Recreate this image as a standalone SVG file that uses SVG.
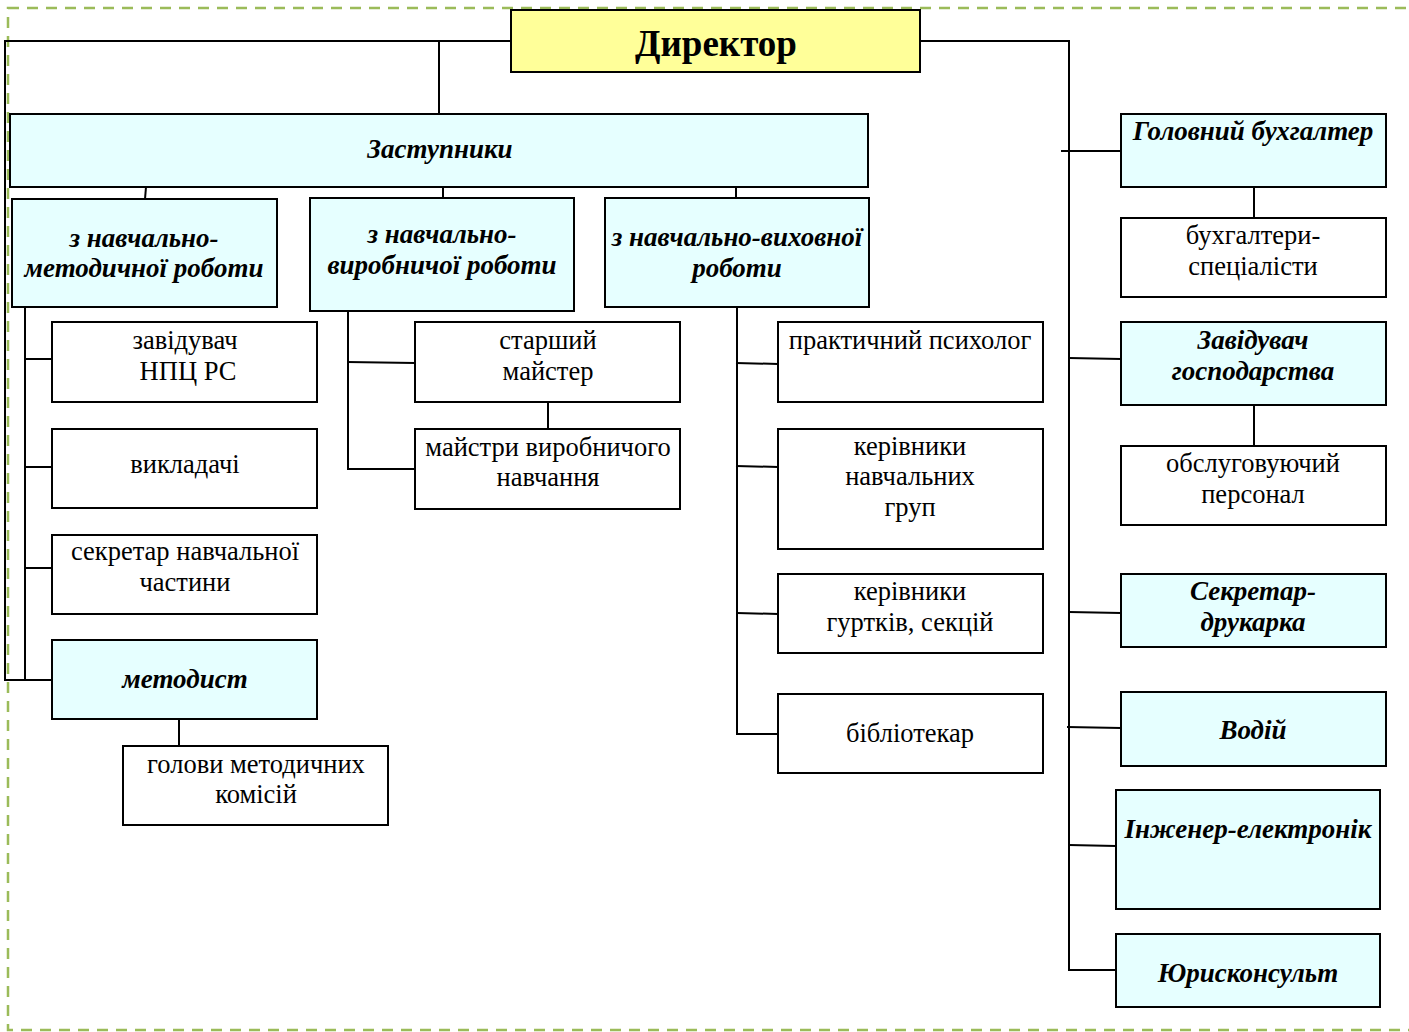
<svg xmlns="http://www.w3.org/2000/svg" width="1409" height="1032" viewBox="0 0 1409 1032">
<style>
.box{fill:#ffffff;stroke:#000;stroke-width:2}
.hi{fill:#e6ffff;stroke:#000;stroke-width:2}
.dir{fill:#ffff99;stroke:#000;stroke-width:2}
.ln{fill:none;stroke:#000;stroke-width:2}
text{font-family:"Liberation Serif","Times New Roman",serif;text-anchor:middle;fill:#000}
.r{font-size:26.5px}
.b{font-size:27px;font-weight:bold;font-style:italic}
.d{font-size:37px;font-weight:bold}
</style>
<rect x="8" y="8" width="1420" height="1022" fill="none" stroke="#9bbb59" stroke-width="2.5" stroke-dasharray="11,8"/>
<g id="connectors">
<polyline class="ln" points="511,41 5,41 5,680 52,680"/>
<line class="ln" x1="439" y1="41" x2="439" y2="114"/>
<polyline class="ln" points="920,41 1069,41 1069,970 1116,970"/>
<line class="ln" x1="146" y1="187" x2="145" y2="199"/>
<line class="ln" x1="443" y1="187" x2="443" y2="198"/>
<line class="ln" x1="736" y1="187" x2="736" y2="198"/>
<line class="ln" x1="25" y1="307" x2="25" y2="680"/>
<line class="ln" x1="25" y1="359" x2="52" y2="359"/>
<line class="ln" x1="25" y1="467" x2="52" y2="467"/>
<line class="ln" x1="25" y1="568" x2="52" y2="568"/>
<line class="ln" x1="179" y1="719" x2="179" y2="746"/>
<polyline class="ln" points="348,311 348,469 415,469"/>
<line class="ln" x1="347" y1="362" x2="415" y2="363"/>
<line class="ln" x1="548" y1="402" x2="548" y2="429"/>
<polyline class="ln" points="737,307 737,734 778,734"/>
<line class="ln" x1="736" y1="363" x2="778" y2="364"/>
<line class="ln" x1="736" y1="466" x2="778" y2="467"/>
<line class="ln" x1="737" y1="613" x2="778" y2="614"/>
<line class="ln" x1="1061" y1="151" x2="1121" y2="151"/>
<line class="ln" x1="1254" y1="187" x2="1254" y2="218"/>
<line class="ln" x1="1069" y1="358" x2="1121" y2="359"/>
<line class="ln" x1="1254" y1="405" x2="1254" y2="446"/>
<line class="ln" x1="1069" y1="612" x2="1121" y2="613"/>
<line class="ln" x1="1067" y1="727" x2="1121" y2="728"/>
<line class="ln" x1="1069" y1="845" x2="1116" y2="846"/>
</g>
<g id="director"><rect class="dir" x="511" y="10" width="409" height="62"/><text class="d" x="716" y="56">Директор</text></g>
<g id="zastupnyky"><rect class="hi" x="10" y="114" width="858" height="73"/><text class="b" x="440" y="158">Заступники</text></g>
<g id="zast-metod"><rect class="hi" x="12" y="199" width="265" height="108"/><text class="b" x="144" y="247">з навчально-</text><text class="b" x="144" y="277">методичної роботи</text></g>
<g id="zast-vyrob"><rect class="hi" x="310" y="198" width="264" height="113"/><text class="b" x="442" y="243">з навчально-</text><text class="b" x="442" y="274">виробничої роботи</text></g>
<g id="zast-vykh"><rect class="hi" x="605" y="198" width="264" height="109"/><text class="b" x="737" y="246">з навчально-виховної</text><text class="b" x="737" y="277">роботи</text></g>
<g id="npc"><rect class="box" x="52" y="322" width="265" height="80"/><text class="r" x="185" y="349">завідувач</text><text class="r" x="188" y="380">НПЦ РС</text></g>
<g id="vykladachi"><rect class="box" x="52" y="429" width="265" height="79"/><text class="r" x="185" y="473">викладачі</text></g>
<g id="sekretar-nch"><rect class="box" x="52" y="535" width="265" height="79"/><text class="r" x="185" y="560">секретар навчальної</text><text class="r" x="185" y="591">частини</text></g>
<g id="metodyst"><rect class="hi" x="52" y="640" width="265" height="79"/><text class="b" x="185" y="688">методист</text></g>
<g id="holovy"><rect class="box" x="123" y="746" width="265" height="79"/><text class="r" x="256" y="773">голови методичних</text><text class="r" x="256" y="803">комісій</text></g>
<g id="st-maister"><rect class="box" x="415" y="322" width="265" height="80"/><text class="r" x="548" y="349">старший</text><text class="r" x="548" y="380">майстер</text></g>
<g id="maistry"><rect class="box" x="415" y="429" width="265" height="80"/><text class="r" x="548" y="456">майстри виробничого</text><text class="r" x="548" y="486">навчання</text></g>
<g id="psykholoh"><rect class="box" x="778" y="322" width="265" height="80"/><text class="r" x="910" y="349">практичний психолог</text></g>
<g id="kerivnyky-hrup"><rect class="box" x="778" y="429" width="265" height="120"/><text class="r" x="910" y="455">керівники</text><text class="r" x="910" y="485">навчальних</text><text class="r" x="910" y="516">груп</text></g>
<g id="kerivnyky-hurtkiv"><rect class="box" x="778" y="574" width="265" height="79"/><text class="r" x="910" y="600">керівники</text><text class="r" x="910" y="631">гуртків, секцій</text></g>
<g id="bibliotekar"><rect class="box" x="778" y="694" width="265" height="79"/><text class="r" x="910" y="742">бібліотекар</text></g>
<g id="holovbukh"><rect class="hi" x="1121" y="114" width="265" height="73"/><text class="b" x="1253" y="140">Головний бухгалтер</text></g>
<g id="bukhaltery"><rect class="box" x="1121" y="218" width="265" height="79"/><text class="r" x="1253" y="244">бухгалтери-</text><text class="r" x="1253" y="275">спеціалісти</text></g>
<g id="zavhosp"><rect class="hi" x="1121" y="322" width="265" height="83"/><text class="b" x="1253" y="349">Завідувач</text><text class="b" x="1253" y="380">господарства</text></g>
<g id="obsluh"><rect class="box" x="1121" y="446" width="265" height="79"/><text class="r" x="1253" y="472">обслуговуючий</text><text class="r" x="1253" y="503">персонал</text></g>
<g id="sekretar-druk"><rect class="hi" x="1121" y="574" width="265" height="73"/><text class="b" x="1253" y="600">Секретар-</text><text class="b" x="1253" y="631">друкарка</text></g>
<g id="vodii"><rect class="hi" x="1121" y="692" width="265" height="74"/><text class="b" x="1253" y="739">Водій</text></g>
<g id="inzhener"><rect class="hi" x="1116" y="790" width="264" height="119"/><text class="b" x="1248" y="838">Інженер-електронік</text></g>
<g id="yuryst"><rect class="hi" x="1116" y="934" width="264" height="73"/><text class="b" x="1248" y="982">Юрисконсульт</text></g>
</svg>
